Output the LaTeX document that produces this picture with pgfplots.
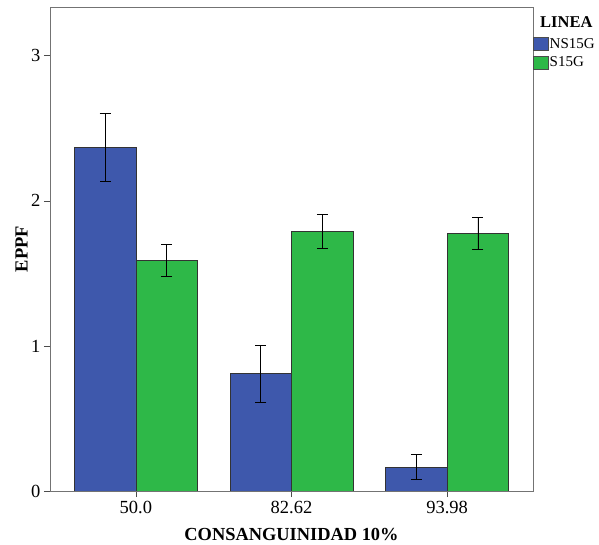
\documentclass[border=0pt]{standalone}
\usepackage{fontspec}
\setmainfont{Liberation Serif}
\usepackage{pgfplots}
\pgfplotsset{compat=1.18}
\definecolor{cblue}{RGB}{62,88,172}
\definecolor{cgreen}{RGB}{46,184,72}
\begin{document}
\begin{tikzpicture}
\path[use as bounding box] (-50pt,-54pt) rectangle (549pt,491pt);
\begin{axis}[
  scale only axis, width=483pt, height=484pt,
  ybar=0pt, bar width=61.5pt,
  xmin=-0.552, xmax=2.552, ymin=0, ymax=3.336,
  xtick={0,1,2}, xticklabels={50.0,82.62,93.98},
  ytick={0,1,2,3},
  tick align=outside, major tick length=6pt,
  tick style={black!70, line width=0.6pt},
  xtick pos=lower, ytick pos=left,
  axis line style={black!55, line width=0.8pt},
  /pgf/number format/assume math mode=true,
  tick label style={font=\fontsize{18.5}{21}\selectfont},
  xticklabel style={yshift=-1pt},
  xlabel={\textbf{CONSANGUINIDAD 10\%}},
  ylabel={\textbf{EPPF}},
  every axis x label/.style={at={(axis description cs:0.5,-0.089)}, anchor=center, font=\fontsize{18.4}{21}\selectfont},
  every axis y label/.style={at={(axis description cs:-0.059,0.5)}, anchor=center, rotate=90, font=\fontsize{18.5}{21}\selectfont},
  legend style={at={(axis description cs:1.0,0.938)}, anchor=north west, draw=none, fill=none,
    inner sep=0pt, row sep=5pt, column sep=1pt,
    font=\fontsize{15}{17}\selectfont, nodes={inner sep=0pt, anchor=west}},
  legend cell align=left,
  legend image code/.code={\draw[#1, draw=black!70, line width=0.5pt] (0pt,-6.5pt) rectangle (15pt,6.5pt);},
  error bars/error bar style={black, line width=0.6pt},
  error bars/error mark options={black, mark size=5.5pt, line width=0.6pt, rotate=90},
]
\addplot[fill=cblue, draw=black!80, line width=0.5pt,
  error bars/.cd, y dir=both, y explicit]
  coordinates {
    (0,2.367) += (0,0.233) -= (0,0.230)
    (1,0.811) += (0,0.191) -= (0,0.197)
    (2,0.165) += (0,0.087) -= (0,0.083)
  };
\addplot[fill=cgreen, draw=black!80, line width=0.5pt,
  error bars/.cd, y dir=both, y explicit]
  coordinates {
    (0,1.592) += (0,0.111) -= (0,0.112)
    (1,1.789) += (0,0.115) -= (0,0.115)
    (2,1.777) += (0,0.110) -= (0,0.113)
  };
\legend{NS15G,S15G}
\end{axis}
\node[anchor=west, inner sep=0pt, font=\fontsize{16.5}{19}\selectfont\bfseries] at (490pt,469pt) {LINEA};
\end{tikzpicture}
\end{document}
